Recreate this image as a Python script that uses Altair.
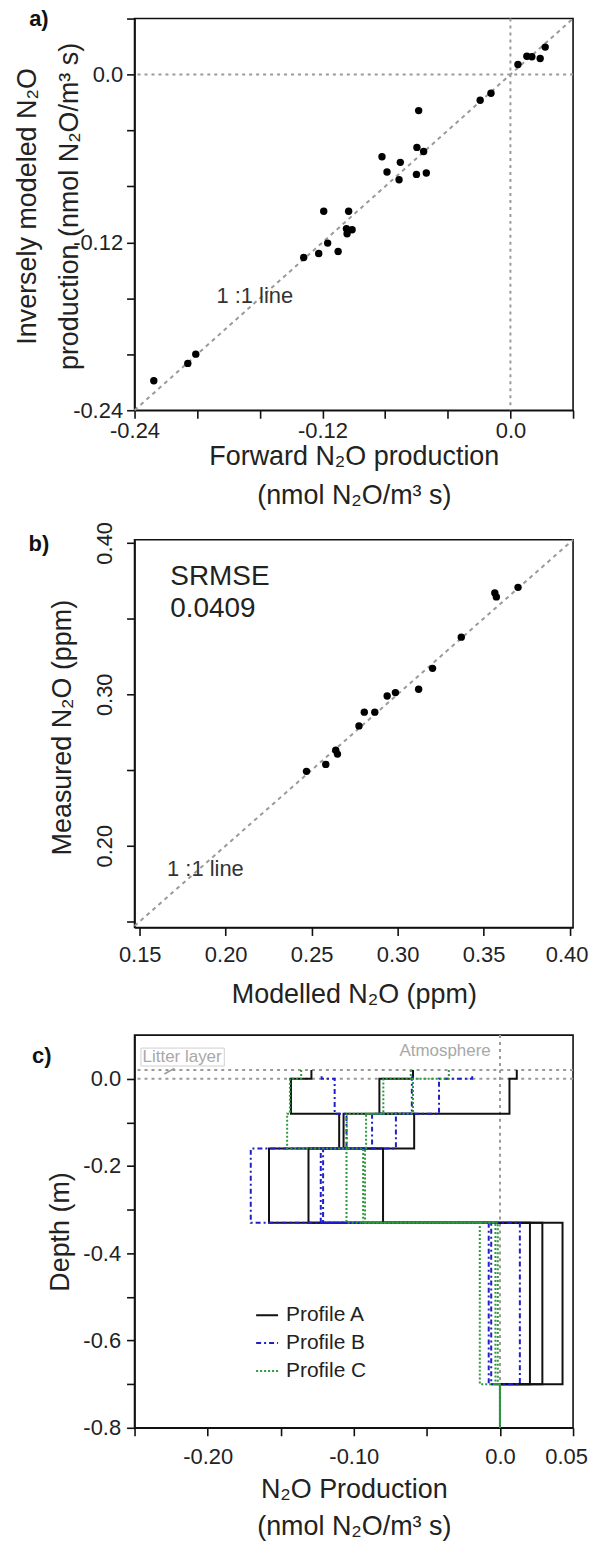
import altair as alt
import pandas as pd

FONT = "Liberation Sans"

# ---------------- Panel a data ----------------
A_FORWARD = [-0.2277, -0.206, -0.2009, -0.132, -0.1224, -0.1167, -0.1192, -0.110, -0.1033, -0.1043,
             -0.1011, -0.1047, -0.082, -0.0788, -0.0703, -0.0711, -0.0597, -0.0554, -0.0586, -0.060,
             -0.0537, -0.0193, -0.0124, 0.0048, 0.0105, 0.0137, 0.019, 0.0222]
A_INVERSE = [-0.2189, -0.2065, -0.1999, -0.1308, -0.128, -0.1205, -0.0977, -0.1265, -0.0977, -0.1139,
             -0.111, -0.1103, -0.0588, -0.0697, -0.0628, -0.0752, -0.0521, -0.055, -0.0258, -0.0714,
             -0.0704, -0.0184, -0.0134, 0.0072, 0.0131, 0.0127, 0.0115, 0.0196]
A_DOMAIN = [-0.24, 0.04]
A_TICKS = [-0.24, -0.20, -0.16, -0.12, -0.08, -0.04, 0.0, 0.04]
A_TICK_LABELS = {-0.24: "-0.24", -0.12: "-0.12", 0.0: "0.0"}
A_ZERO = [0.0]

# ---------------- Panel b data ----------------
B_MODELLED = [0.247, 0.2582, 0.264, 0.265, 0.2775, 0.2806, 0.2867, 0.2939, 0.2987, 0.3122,
              0.3203, 0.337, 0.3565, 0.3574, 0.370]
B_MEASURED = [0.2491, 0.2537, 0.263, 0.2605, 0.2791, 0.2882, 0.2882, 0.2989, 0.3011, 0.3033,
              0.3171, 0.3377, 0.3669, 0.3643, 0.3706]
B_XDOMAIN = [0.147, 0.402]
B_YDOMAIN = [0.146, 0.402]
B_TICKS = [0.15, 0.20, 0.25, 0.30, 0.35, 0.40]
B_XTICK_LABELS = {0.15: "0.15", 0.20: "0.20", 0.25: "0.25", 0.30: "0.30", 0.35: "0.35", 0.40: "0.40"}
B_YTICK_LABELS = {0.20: "0.20", 0.30: "0.30", 0.40: "0.40"}

# ---------------- Panel c data ----------------
PROFILE_NAMES = ["Profile A", "Profile B", "Profile C"]
PROFILE_COLORS = ["#111111", "#1f1fc8", "#2f9a3c"]
PROFILE_DASH = [[1, 0], [5, 3, 2, 3], [2, 2]]
DEPTH_EDGES = [0.02, 0.0, -0.08, -0.16, -0.33, -0.70, -0.80]
LITTER_TOP = [0.02, 0.006, 0.02]
# values per layer: litter, 0..-0.08, -0.08..-0.16, -0.16..-0.33, -0.33..-0.70, below -0.70
PROFILE_A = [[-0.129, -0.143, -0.110, -0.158, 0.0205, 0.0],
             [-0.0595, -0.0825, -0.0587, -0.131, 0.029, 0.0],
             [0.0115, 0.0065, -0.107, -0.080, 0.0428, 0.0]]
PROFILE_B = [[-0.122, -0.1131, -0.105, -0.1705, -0.0077, 0.0],
             [-0.060, -0.0603, -0.0875, -0.1226, -0.006, 0.0],
             [-0.019, -0.0417, -0.0712, -0.121, 0.0136, 0.0]]
PROFILE_C = [[-0.136, -0.1437, -0.1456, -0.105, -0.0138, 0.0],
             [-0.061, -0.0798, -0.1048, -0.0936, -0.0031, 0.0],
             [-0.035, -0.0595, -0.0916, -0.0923, -0.0015, 0.0]]
C_XDOMAIN = [-0.25, 0.05]
C_YDOMAIN = [-0.8, 0.1]
C_XTICKS = [-0.25, -0.20, -0.15, -0.10, -0.05, 0.0, 0.05]
C_XTICK_LABELS = {-0.20: "-0.20", -0.10: "-0.10", 0.0: "0.0", 0.05: "0.05"}
C_YTICKS = [-0.8, -0.7, -0.6, -0.5, -0.4, -0.3, -0.2, -0.1, 0.0]
C_YTICK_LABELS = {-0.8: "-0.8", -0.6: "-0.6", -0.4: "-0.4", -0.2: "-0.2", 0.0: "0.0"}
C_HLINES = [0.0, 0.02]
C_VLINES = [0.0]

GREY = "#9a9a9a"
W = 440
HA, HB, HC = 393, 389, 394
PAGE_W, PAGE_H = 591, 1546
ORIGIN_X, ORIGIN_A, ORIGIN_C = 134, 15, 1031


def label_expr(mapping):
    expr = "''"
    for v, s in mapping.items():
        expr = f"abs(datum.value - ({v})) < 1e-6 ? '{s}' : ({expr})"
    return expr


def lab(text, x, y, size=22):
    return alt.Chart(pd.DataFrame({"t": [text]})).mark_text(
        font=FONT, fontSize=size, fontWeight="bold", align="center", baseline="middle", color="#111"
    ).encode(text="t:N", x=alt.value(x), y=alt.value(y))


def reserve(x1, y1, x2, y2):
    # invisible rule reserving layout room (no data)
    return alt.Chart(pd.DataFrame({"t": [0]})).mark_rule(opacity=0, strokeWidth=0).encode(
        x=alt.value(x1), y=alt.value(y1), x2=alt.value(x2), y2=alt.value(y2))


# ================= Panel a =================
ax = alt.X("x:Q", scale=alt.Scale(domain=A_DOMAIN, nice=False, zero=False),
           axis=alt.Axis(values=A_TICKS, labelExpr=label_expr(A_TICK_LABELS),
                         title=["Forward N₂O production", "(nmol N₂O/m³ s)"], labelPadding=2,
                         titlePadding=2, titleLineHeight=40))
ay = alt.Y("y:Q", scale=alt.Scale(domain=A_DOMAIN, nice=False, zero=False),
           axis=alt.Axis(values=A_TICKS, labelExpr=label_expr(A_TICK_LABELS),
                         title=["Inversely modeled N₂O", "production (nmol N₂O/m³ s)"], labelPadding=4,
                         titleX=-99, titleY=188, titleBaseline="alphabetic", titleLineHeight=42))

df_a = pd.DataFrame({"x": A_FORWARD, "y": A_INVERSE})
diag_a = pd.DataFrame({"x": A_DOMAIN, "y": A_DOMAIN})
zero_a = pd.DataFrame({"x": A_ZERO, "y": A_ZERO})

pa = alt.layer(
    reserve(-ORIGIN_X, -ORIGIN_A, PAGE_W - ORIGIN_X, -ORIGIN_A),
    reserve(0, HA, 0, HA + 106),
    alt.Chart(zero_a).mark_rule(color=GREY, strokeDash=[3, 4], strokeWidth=2).encode(y=ay),
    alt.Chart(zero_a).mark_rule(color=GREY, strokeDash=[3, 4], strokeWidth=2).encode(x=ax),
    alt.Chart(diag_a).mark_line(color=GREY, strokeDash=[4, 4], strokeWidth=2).encode(x=ax, y=ay),
    alt.Chart(df_a).mark_circle(color="#000", size=55, opacity=1).encode(x=ax, y=ay),
    alt.Chart(pd.DataFrame({"x": [-0.1877], "y": [-0.163], "t": ["1 :1 line"]})).mark_text(
        font=FONT, fontSize=22, align="left", baseline="alphabetic", color="#333").encode(x=ax, y=ay, text="t:N"),
    lab("a)", -96, 0),
).properties(width=W, height=HA)

# ================= Panel b =================
bx = alt.X("x:Q", scale=alt.Scale(domain=B_XDOMAIN, nice=False, zero=False),
           axis=alt.Axis(values=B_TICKS, labelExpr=label_expr(B_XTICK_LABELS),
                         title="Modelled N₂O (ppm)", labelPadding=9, titlePadding=16,
                         labelOffset={"condition": {"test": "datum.value > 0.39", "value": -3}, "value": 0}))
by = alt.Y("y:Q", scale=alt.Scale(domain=B_YDOMAIN, nice=False, zero=False),
           axis=alt.Axis(values=B_TICKS, labelExpr=label_expr(B_YTICK_LABELS),
                         labelAngle=270, labelAlign="center", labelBaseline="bottom",
                         title="Measured N₂O (ppm)", labelPadding=10,
                         titleX=-64, titleY=188, titleBaseline="alphabetic"))

df_b = pd.DataFrame({"x": B_MODELLED, "y": B_MEASURED})
diag_b = pd.DataFrame({"x": B_XDOMAIN, "y": B_XDOMAIN})
txt_b = pd.DataFrame({"x": [0.1678, 0.1678], "y": [0.3724, 0.3513], "t": ["SRMSE", "0.0409"]})

pb = alt.layer(
    reserve(0, -22, 0, 0),
    reserve(0, HB, 0, HB + 102),
    alt.Chart(diag_b).mark_line(color=GREY, strokeDash=[4, 4], strokeWidth=2).encode(x=bx, y=by),
    alt.Chart(df_b).mark_circle(color="#000", size=55, opacity=1).encode(x=bx, y=by),
    alt.Chart(txt_b).mark_text(font=FONT, fontSize=28, align="left", baseline="alphabetic",
                               color="#222").encode(x=bx, y=by, text="t:N"),
    alt.Chart(pd.DataFrame({"x": [0.1659], "y": [0.1803], "t": ["1 :1 line"]})).mark_text(
        font=FONT, fontSize=22, align="left", baseline="alphabetic", color="#333").encode(x=bx, y=by, text="t:N"),
    lab("b)", -96, 4),
).properties(width=W, height=HB)

# ================= Panel c =================
rows = []
for name, top, curves in zip(PROFILE_NAMES, LITTER_TOP, [PROFILE_A, PROFILE_B, PROFILE_C]):
    edges = [top] + DEPTH_EDGES[1:]
    for ci, vals in enumerate(curves):
        k = 0
        for j, v in enumerate(vals):
            for d in (edges[j], edges[j + 1]):
                rows.append({"profile": name, "curve": f"{name}-{ci}", "i": k, "x": v, "y": d})
                k += 1
df_c = pd.DataFrame(rows)

cx = alt.X("x:Q", scale=alt.Scale(domain=C_XDOMAIN, nice=False, zero=False),
           axis=alt.Axis(values=C_XTICKS, labelExpr=label_expr(C_XTICK_LABELS),
                         title=["N₂O Production", "(nmol N₂O/m³ s)"], labelPadding=11, titlePadding=9,
                         titleLineHeight=37,
                         labelOffset={"condition": {"test": "datum.value > 0.04", "value": -7}, "value": 0}))
cy = alt.Y("y:Q", scale=alt.Scale(domain=C_YDOMAIN, nice=False, zero=False),
           axis=alt.Axis(values=C_YTICKS, labelExpr=label_expr(C_YTICK_LABELS),
                         title="Depth (m)", labelPadding=6,
                         titleX=-66, titleY=197, titleBaseline="alphabetic"))

leg = dict(title=None, orient="none", legendX=121, legendY=1289, symbolType="stroke", symbolSize=484,
           symbolStrokeWidth=2, labelFontSize=21, labelFont=FONT, labelColor="#222", rowPadding=6,
           padding=0, labelOffset=7)

hl = pd.DataFrame({"y": C_HLINES})
vl = pd.DataFrame({"x": C_VLINES})
notes = pd.DataFrame({"x": [-0.2445, -0.0063], "y": [0.0497, 0.0635], "t": ["Litter layer", "Atmosphere"],
                      "a": ["left", "right"]})

pc = alt.layer(
    reserve(0, -4, 0, 0),
    reserve(0, HC, 0, PAGE_H - ORIGIN_C),
    alt.Chart(hl).mark_rule(color=GREY, strokeDash=[3, 4], strokeWidth=2).encode(y=cy),
    alt.Chart(vl).mark_rule(color=GREY, strokeDash=[3, 4], strokeWidth=2).encode(x=cx),
    alt.Chart(df_c).mark_line(strokeWidth=2, interpolate="linear").encode(
        x=cx, y=cy, detail="curve:N", order="i:Q",
        color=alt.Color("profile:N", scale=alt.Scale(domain=PROFILE_NAMES, range=PROFILE_COLORS),
                        legend=alt.Legend(**leg)),
        strokeDash=alt.StrokeDash("profile:N", scale=alt.Scale(domain=PROFILE_NAMES, range=PROFILE_DASH),
                                  legend=alt.Legend(**leg)),
    ),
    alt.Chart(pd.DataFrame({"x": [-0.2456], "x2": [-0.1886], "y": [0.0703], "y2": [0.0292]})).mark_rect(
        fill="white", fillOpacity=0, stroke="#cfcfcf", strokeWidth=1).encode(x=cx, x2="x2:Q", y=cy, y2="y2:Q"),
    alt.Chart(pd.DataFrame({"x": [-0.2296], "x2": [-0.2228], "y": [0.0109], "y2": [0.0239]})).mark_rule(
        color=GREY, strokeWidth=1.5).encode(x=cx, x2="x2:Q", y=cy, y2="y2:Q"),
    alt.Chart(notes).transform_filter("datum.a == 'left'").mark_text(
        font=FONT, fontSize=17, align="left", baseline="middle", color="#a8a8a8").encode(x=cx, y=cy, text="t:N"),
    alt.Chart(notes).transform_filter("datum.a == 'right'").mark_text(
        font=FONT, fontSize=17, align="right", baseline="middle", color="#a8a8a8").encode(x=cx, y=cy, text="t:N"),
    lab("c)", -93, 21),
).properties(width=W, height=HC)

chart = alt.vconcat(pa, pb, pc, spacing=0).configure_view(
    stroke="#111", strokeWidth=1.6
).configure_axis(
    domainColor="#111", domainWidth=1.6, tickColor="#111", tickWidth=1.6, tickSize=8,
    labelFont=FONT, labelFontSize=22, labelColor="#222", labelOverlap=False, labelFlush=False,
    titleFont=FONT, titleFontSize=27, titleFontWeight="normal", titleColor="#222",
    titleLineHeight=38, grid=False
).properties(padding=0)

chart.save("out.html", embed_options={"renderer": "svg", "actions": False})
